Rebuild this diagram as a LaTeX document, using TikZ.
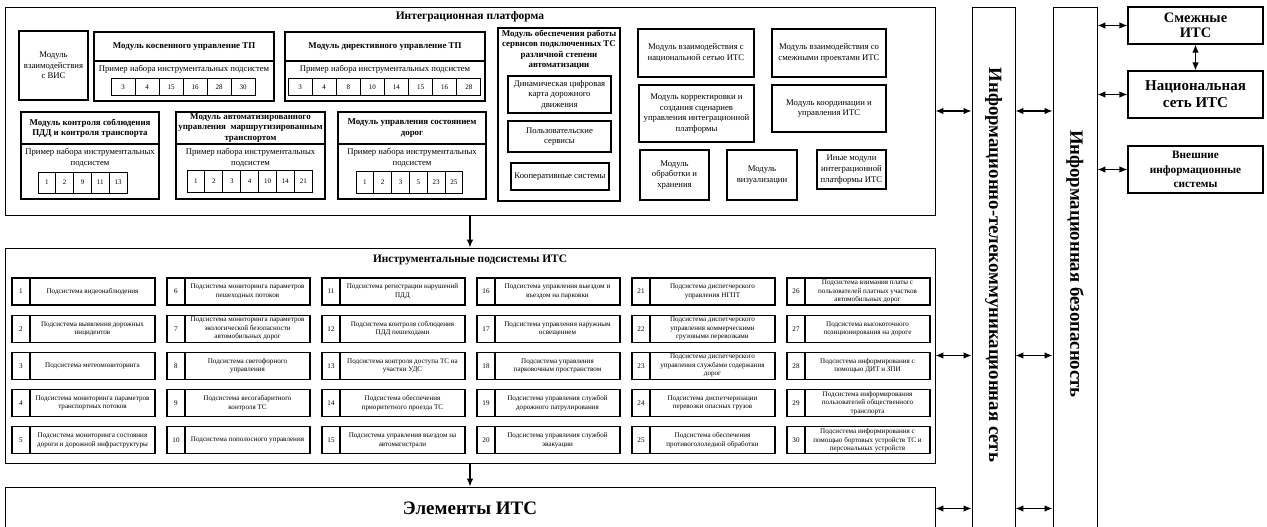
\documentclass[tikz,border=0pt]{standalone}
\usepackage{fontspec}
\setmainfont{Liberation Serif}
\usetikzlibrary{arrows.meta}
\newcommand\fsmod{\fontsize{8.7}{10.6}\selectfont}
\newcommand\fshead{\fontsize{8.9}{10.4}\selectfont\bfseries}
\newcommand\fssub{\fontsize{7.1}{8.5}\selectfont}
\newcommand\fscell{\fontsize{7}{7.5}\selectfont}
\newcommand\mkbox[7][]{%
  \pgfmathsetmacro\mkW{#5-(#3)}%
  \pgfmathsetmacro\mkH{#6-(#4)}%
  \pgfmathsetmacro\mkX{(#3+#5)/2}%
  \pgfmathsetmacro\mkY{(#4+#6)/2}%
  \node[box,minimum width=\mkW pt,minimum height=\mkH pt,#1] (#2) at (\mkX,\mkY) {#7};}
\newcommand\cellrow[6]{%
  \foreach \ctxt [count=\ci] in {#6} {\mkbox[cell]{#1\ci}{#2+#5*(\ci-1)}{#3}{#2+#5*\ci}{#4}{\ctxt}}}
\tikzset{
  box/.style={draw, line width=1.1pt, inner sep=0.5pt, align=center, font=\fsmod},
  outer/.style={line width=0.9pt},
  head/.style={font=\fshead},
  cell/.style={line width=1pt, font=\fscell},
  sub/.style={line width=1.1pt, font=\fssub},
  txt/.style={align=center, inner sep=0pt},
  arr/.style={line width=1.2pt, -{Latex[length=8pt,width=6.5pt]}},
  dbl/.style={line width=1.2pt, {Latex[length=8pt,width=6.5pt]}-{Latex[length=8pt,width=6.5pt]}},
}
\begin{document}
\begin{tikzpicture}[x=1pt,y=-1pt]
\useasboundingbox (0,0) rectangle (1267,527);
% big blocks
\mkbox[outer]{ip}{5}{7}{935}{215}{}
\node[txt, font=\fontsize{11.5}{13}\selectfont\bfseries] (ipt) at (470,17) {Интеграционная платформа};
\mkbox[outer]{ss}{5}{248}{935}{463}{}
\node[txt, font=\fontsize{11.4}{13}\selectfont\bfseries] (sst) at (470,260) {Инструментальные подсистемы ИТС};
\mkbox[outer, font=\fontsize{19}{21}\selectfont\bfseries]{el}{5}{487}{935}{530}{Элементы ИТС}
\mkbox[outer]{itn}{972}{7}{1015}{540}{}
\node[txt, rotate=-90, font=\fontsize{18.8}{20}\selectfont\bfseries] (itnt) at (993.5,265) {Информационно-телекоммуникационная сеть};
\mkbox[outer]{ib}{1053}{7}{1097}{540}{}
\node[txt, rotate=-90, font=\fontsize{18.8}{20}\selectfont\bfseries] (ibt) at (1075,264) {Информационная безопасность};
% external
\mkbox[font=\fontsize{14.5}{15.5}\selectfont\bfseries]{sm}{1128}{7}{1263}{44}{Смежные\\ИТС}
\mkbox[font=\fontsize{15}{17}\selectfont\bfseries]{nat}{1128}{71}{1263}{118}{Национальная\\сеть ИТС}
\mkbox[font=\fontsize{11.3}{14.5}\selectfont\bfseries]{vn}{1128}{146}{1263}{193}{Внешние\\информационные\\системы}
% integration modules
\mkbox{vis}{19}{31}{88}{100}{Модуль\\взаимодействия\\с ВИС}
\mkbox[head]{kosh}{94}{32}{274}{61}{Модуль косвенного управление ТП}
\mkbox{kosb}{94}{61}{274}{101}{}
\node[txt, font=\fsmod] (kost) at (184,69.5) {Пример набора инструментальных подсистем};
\cellrow{kos}{111}{79}{96}{24}{3,4,15,16,28,30}
\mkbox[head]{dirh}{285}{32}{485}{61}{Модуль директивного управление ТП}
\mkbox{dirb}{285}{61}{485}{101}{}
\node[txt, font=\fsmod] (dirt) at (385,69.5) {Пример набора инструментальных подсистем};
\cellrow{dir}{288}{79}{96}{24.1}{3,4,8,10,14,15,16,28}
\mkbox[head]{konh}{21}{112}{159}{144}{Модуль контроля соблюдения\\ПДД и контроля транспорта}
\mkbox{konb}{21}{144}{159}{199}{}
\node[txt, font=\fsmod] (kont) at (90,158) {Пример набора инструментальных\\подсистем};
\cellrow{kon}{38}{172}{193}{17.8}{1,2,9,11,13}
\mkbox[head]{avth}{176}{112}{325}{144}{Модуль автоматизированного\\управления~~маршрутизированным\\транспортом}
\mkbox{avtb}{176}{144}{325}{199}{}
\node[txt, font=\fsmod] (avtt) at (250.5,157.5) {Пример набора инструментальных\\подсистем};
\cellrow{avt}{187}{170}{192}{17.9}{1,2,3,4,10,14,21}
\mkbox[head]{sosh}{338}{112}{486}{144}{Модуль управления состоянием\\дорог}
\mkbox{sosb}{338}{144}{486}{199}{}
\node[txt, font=\fsmod] (sost) at (412,158) {Пример набора инструментальных\\подсистем};
\cellrow{sos}{356}{171}{193}{17.8}{1,2,3,5,23,25}
\mkbox{obs}{498}{28}{620}{201}{}
\node[txt, font=\fshead, anchor=north] (obst) at (559,30) {Модуль обеспечения работы\\сервисов подключенных ТС\\различной степени\\автоматизации};
\mkbox{dyn}{508}{76}{611}{113}{Динамическая цифровая\\карта дорожного\\движения}
\mkbox{pol}{508}{121}{611}{152}{Пользовательские\\сервисы}
\mkbox{koop}{511}{163}{609}{190}{Кооперативные системы}
\mkbox{natm}{638}{29}{754}{77}{Модуль взаимодействия с\\национальной сетью ИТС}
\mkbox{kor}{639}{85}{754}{142}{Модуль корректировки и\\создания сценариев\\управления интеграционной\\платформы}
\mkbox{obr}{640}{150}{709}{200}{Модуль\\обработки и\\хранения}
\mkbox{viz}{727}{150}{797}{200}{Модуль\\визуализации}
\mkbox{smp}{772}{29}{886}{77}{Модуль взаимодействия со\\смежными проектами ИТС}
\mkbox{koord}{772}{85}{886}{132}{Модуль координации и\\управления ИТС}
\mkbox{iny}{817}{150}{886}{189}{Иные модули\\интеграционной\\платформы ИТС}
% subsystems
\foreach \nn/\stx in {
 1/{Подсистема видеонаблюдения},
 2/{Подсистема выявления дорожных\\инцидентов},
 3/{Подсистема метеомониторинга},
 4/{Подсистема мониторинга параметров\\транспортных потоков},
 5/{Подсистема мониторинга состояния\\дороги и дорожной инфраструктуры},
 6/{Подсистема мониторинга параметров\\пешеходных потоков},
 7/{Подсистема мониторинга параметров\\экологической безопасности\\автомобильных дорог},
 8/{Подсистема светофорного\\управления},
 9/{Подсистема весогабаритного\\контроля ТС},
 10/{Подсистема пополосного управления},
 11/{Подсистема регистрации нарушений\\ПДД},
 12/{Подсистема контроля соблюдения\\ПДД пешеходами},
 13/{Подсистема контроля доступа ТС на\\участки УДС},
 14/{Подсистема обеспечения\\приоритетного проезда ТС},
 15/{Подсистема управления въездом на\\автомагистрали},
 16/{Подсистема управления выездом и\\въездом на парковки},
 17/{Подсистема управления наружным\\освещением},
 18/{Подсистема управления\\парковочным пространством},
 19/{Подсистема управления службой\\дорожного патрулирования},
 20/{Подсистема управления службой\\эвакуации},
 21/{Подсистема диспетчерского\\управления НГПТ},
 22/{Подсистема диспетчерского\\управления коммерческими\\грузовыми перевозками},
 23/{Подсистема диспетчерского\\управления службами содержания\\дорог},
 24/{Подсистема диспетчеризации\\перевозки опасных грузов},
 25/{Подсистема обеспечения\\противогололедной обработки},
 26/{Подсистема взимания платы с\\пользователей платных участков\\автомобильных дорог},
 27/{Подсистема высокоточного\\позиционирования на дороге},
 28/{Подсистема информирования с\\помощью ДИТ и ЗПИ},
 29/{Подсистема информирования\\пользователей общественного\\транспорта},
 30/{Подсистема информирования с\\помощью бортовых устройств ТС и\\персональных устройств}} {
  \pgfmathtruncatemacro\col{(\nn-1)/5}
  \pgfmathtruncatemacro\row{mod(\nn-1,5)}
  \pgfmathsetmacro\xa{12+155*\col}
  \pgfmathsetmacro\ya{278+37.2*\row}
  \mkbox[sub]{n\nn}{\xa}{\ya}{\xa+18}{\ya+27}{\nn}
  \mkbox[sub]{s\nn}{\xa+18}{\ya}{\xa+143}{\ya+27}{\stx}
}
% connectors
\draw[arr] (ip.south) -- (ss.north);
\draw[arr] (ss.south) -- (el.north);
\draw[dbl] (ip.east) -- (ip.east -| itn.west);
\draw[dbl] (ss.east) -- (ss.east -| itn.west);
\draw[dbl] (el.east) -- (el.east -| itn.west);
\draw[dbl] (ip.east -| itn.east) -- (ip.east -| ib.west);
\draw[dbl] (ss.east -| itn.east) -- (ss.east -| ib.west);
\draw[dbl] (el.east -| itn.east) -- (el.east -| ib.west);
\draw[dbl] (sm.west -| ib.east) -- (sm.west);
\draw[dbl] (nat.west -| ib.east) -- (nat.west);
\draw[dbl] (vn.west -| ib.east) -- (vn.west);
\draw[dbl] (sm.south) -- (nat.north);
\end{tikzpicture}
\end{document}
